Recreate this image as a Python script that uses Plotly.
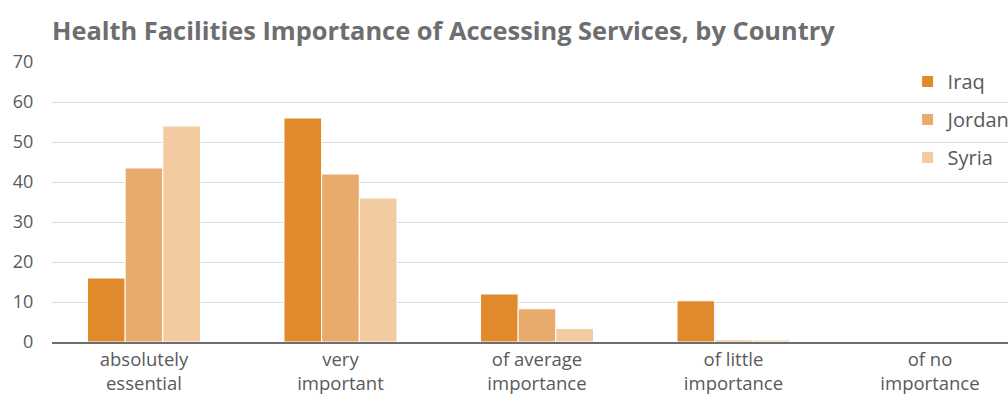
import plotly.graph_objects as go

categories = ["absolutely<br>essential", "very<br>important", "of average<br>importance",
              "of little<br>importance", "of no<br>importance"]
series_names = ["Iraq", "Jordan", "Syria"]
iraq = [16, 56, 12, 10.3, 0]
jordan = [43.5, 42, 8.3, 0.5, 0]
syria = [54, 36, 3.4, 0.5, 0]
colors = ["#E08A2C", "#E9AB6B", "#F2CBA1"]
y_ticks = [0, 10, 20, 30, 40, 50, 60, 70]

FONT = "Open Sans"
GRAY = "#595a5c"

fig = go.Figure()
for i, (name, vals) in enumerate(zip(series_names, [iraq, jordan, syria])):
    fig.add_trace(go.Bar(
        x=list(range(len(categories))), y=vals, name=name,
        marker=dict(color=colors[i], line=dict(color="white", width=1)),
        legendgroup=name,
    ))

fig.update_layout(
    width=1008, height=394,
    margin=dict(l=52, r=0, t=62, b=52, autoexpand=False),
    paper_bgcolor="white", plot_bgcolor="white",
    barmode="group", bargap=0.425, bargroupgap=0,
    title=dict(text="<b>Health Facilities Importance of Accessing Services, by Country</b>",
               font=dict(family=FONT, size=25.4, color="#6d6e71"),
               x=0, xref="paper", xanchor="left", y=0.92, yanchor="middle",
               pad=dict(l=0)),
    font=dict(family=FONT, color=GRAY, size=18),
    showlegend=True,
    legend=dict(x=0.895, y=1.0, xanchor="left", yanchor="top",
                font=dict(family=FONT, size=20, color=GRAY),
                tracegroupgap=9, bgcolor="rgba(0,0,0,0)"),
    xaxis=dict(
        tickmode="array", tickvals=list(range(len(categories))), ticktext=categories,
        range=[-0.468, 4.397], showgrid=False, zeroline=False, automargin=False,
        showline=True, linecolor="#6d6e71", linewidth=1.5,
        tickfont=dict(family=FONT, size=18.5, color=GRAY), ticks="",
    ),
    yaxis=dict(
        range=[0, 70], tickvals=y_ticks, showgrid=True, gridcolor="#dcdcdc", gridwidth=1,
        zeroline=False, ticks="outside", ticklen=14, tickcolor="rgba(0,0,0,0)",
        automargin=False,
        tickfont=dict(family=FONT, size=18, color=GRAY),
    ),
)

fig.write_html("out.html")
